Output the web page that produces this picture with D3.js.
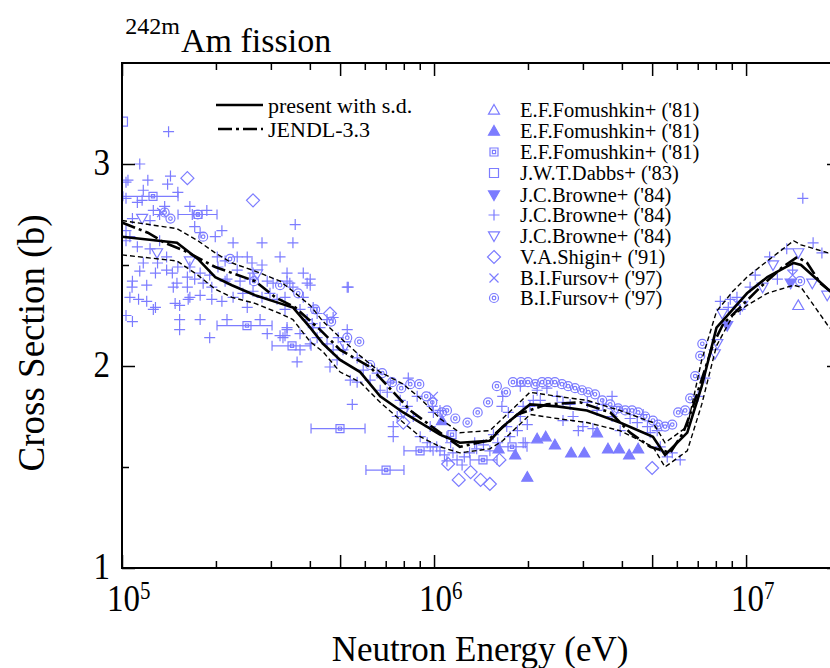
<!DOCTYPE html>
<html><head><meta charset="utf-8">
<script src="https://cdn.jsdelivr.net/npm/d3@7"></script>
<style>
body{margin:0;background:#fff}
svg text{font-family:"Liberation Serif","Times New Roman",serif;fill:#000}
</style>
</head><body>
<svg id="c" width="830" height="668"></svg>
<script>
// ---------------- DATA ----------------
// Evaluated curve (present) with standard deviation band
const presentE  = [1.0e5,1.50e5,1.75e5,1.99e5,2.25e5,2.67e5,3.21e5,3.53e5,4.01e5,4.41e5,5.00e5,5.80e5,6.72e5,7.97e5,9.03e5,1.045e6,1.21e6,1.51e6,1.66e6,2.03e6,2.48e6,3.09e6,3.94e6,5.03e6,5.50e6,6.48e6,7.21e6,8.04e6,9.07e6,1.007e7,1.17e7,1.42e7,1.50e7,1.83e7,2.0e7];
const presentXS = [2.64,2.61,2.53,2.44,2.40,2.35,2.31,2.29,2.19,2.11,2.03,1.97,1.85,1.77,1.72,1.66,1.62,1.63,1.70,1.81,1.80,1.78,1.72,1.65,1.56,1.67,1.90,2.19,2.28,2.36,2.44,2.51,2.50,2.38,2.34];
const presentUp = [2.72,2.68,2.62,2.56,2.51,2.47,2.42,2.37,2.30,2.22,2.14,2.05,1.97,1.91,1.84,1.74,1.67,1.68,1.74,1.87,1.85,1.83,1.78,1.72,1.62,1.70,2.03,2.27,2.37,2.44,2.52,2.62,2.60,2.56,2.58];
const presentLo = [2.55,2.52,2.45,2.38,2.34,2.31,2.26,2.23,2.12,2.07,1.97,1.92,1.82,1.72,1.65,1.60,1.57,1.59,1.63,1.76,1.74,1.72,1.68,1.60,1.50,1.58,1.81,2.10,2.25,2.30,2.36,2.40,2.39,2.20,2.13];
// JENDL-3.3
const jendlE  = [1.0e5,1.21e5,1.37e5,1.59e5,1.99e5,2.67e5,3.10e5,3.59e5,4.31e5,5.00e5,6.24e5,8.39e5,1.045e6,1.21e6,1.48e6,1.85e6,2.30e6,2.94e6,3.67e6,4.25e6,4.93e6,5.71e6,6.29e6,6.76e6,7.85e6,8.46e6,9.57e6,1.11e7,1.31e7,1.46e7,1.57e7,1.73e7,2.0e7];
const jendlXS = [2.71,2.66,2.61,2.57,2.49,2.42,2.34,2.29,2.18,2.08,1.995,1.78,1.67,1.60,1.63,1.76,1.81,1.82,1.77,1.67,1.60,1.57,1.67,1.80,2.11,2.21,2.29,2.39,2.49,2.54,2.51,2.41,2.33];

// Experimental data  [energy (eV), cross section (b)]
const fomushkinOpenTri = [[1.47e7,2.30]];
const fomushkinFilledTri = [[1.06e6,1.73],[1.61e6,1.59],[1.82e6,1.56],[1.99e6,1.45],[2.14e6,1.64],[2.28e6,1.65],[2.44e6,1.61],[2.75e6,1.57],[3.03e6,1.57],[3.33e6,1.67],[3.61e6,1.59],[3.92e6,1.59],[4.22e6,1.56],[4.51e6,1.59]];
// square-with-dot points: [E, xs, Elow, Ehigh]
const fomushkinSquare = [[1.257e5,2.84,1.007e5,1.512e5],[1.752e5,2.75,1.512e5,2.016e5],[2.515e5,2.20,2.016e5,3.026e5],[3.507e5,2.10,3.026e5,4.035e5],[4.996e5,1.69,4.035e5,6.01e5],[7.02e5,1.485,6.05e5,8.01e5],[9.02e5,1.58,8.01e5,9.93e5],[1.142e6,1.66,1.142e6,1.142e6],[1.435e6,1.535,1.305e6,1.592e6],[1.778e6,1.60,1.627e6,1.986e6]];
const dabbsSquare = [[1.007e5,3.21]];
const browneFilledDown = [[1.39e7,2.41],[8.70e6,2.20]];
const browneCross = [[1.41e5,3.16],[1.14e5,3.00],[1.045e5,2.92],[1.21e5,2.92],[1.43e5,2.94],[1.40e5,2.90],[1.51e5,2.86],[1.17e5,2.87],[1.16e5,2.82],[1.12e5,2.81],
[1.26e5,2.77],[1.65e5,2.79],[1.87e5,2.77],[1.37e5,2.79],[1.32e5,2.75],[1.68e5,2.75],[1.71e5,2.69],[1.78e5,2.66],[2.09e5,2.67],[3.59e5,2.70],
[3.53e5,2.61],[2.81e5,2.61],[1.99e5,2.64],[2.27e5,2.61],[1.08e5,2.73],[1.23e5,2.72],[1.06e5,2.64],[1.12e5,2.59],[1.23e5,2.58],[1.32e5,2.62],
[1.39e5,2.54],[1.17e5,2.51],[1.30e5,2.51],[1.14e5,2.47],[1.28e5,2.46],[1.39e5,2.475],[1.51e5,2.49],[1.62e5,2.44],[1.50e5,2.41],[1.45e5,2.46],
[1.71e5,2.43],[1.78e5,2.46],[1.91e5,2.45],[1.65e5,2.49],[2.03e5,2.49],[2.14e5,2.52],[2.02e5,2.54],[2.34e5,2.54],[2.52e5,2.54],[2.61e5,2.51],
[2.81e5,2.50],[3.21e5,2.54],[2.63e5,2.46],[2.34e5,2.475],[2.14e5,2.42],[1.94e5,2.39],[1.62e5,2.39],[1.46e5,2.39],[1.20e5,2.40],[1.08e5,2.42],
[1.077e5,2.39],[1.06e5,2.34],[1.13e5,2.33],[1.20e5,2.32],[1.28e5,2.29],[1.48e5,2.31],[1.53e5,2.30],[1.63e5,2.33],[1.78e5,2.35],[1.94e5,2.33],
[2.09e5,2.32],[2.27e5,2.34],[2.44e5,2.36],[2.63e5,2.37],[2.81e5,2.34],[2.98e5,2.36],[3.14e5,2.33],[3.33e5,2.34],[3.53e5,2.39],[3.81e5,2.46],
[4.01e5,2.40],[3.81e5,2.34],[1.53e5,2.23],[1.78e5,2.23],[1.91e5,2.14],[2.17e5,2.23],[2.52e5,2.29],[2.77e5,2.23],[2.92e5,2.16],[3.21e5,2.15],
[3.38e5,2.18],[1.08e5,2.22],[1.26e5,2.28],[1.53e5,2.18],[1.65e5,2.34],[1.82e5,2.41],[2.17e5,2.43],[2.39e5,2.42],[2.57e5,2.43],[2.92e5,2.42],
[3.05e5,2.41],[3.38e5,2.42],[4.22e5,2.26],[3.72e5,2.28],[3.92e5,2.23],[4.10e5,2.19],[4.75e5,2.24],[5.27e5,2.39],[4.01e5,2.43],[3.38e5,2.46],
[1.03e5,2.91],[1.03e5,2.83],[1.03e5,2.67],[1.03e5,2.62],[1.03e5,2.25],
[3.92e5,2.41],[3.45e5,2.41],[3.33e5,2.28],[3.33e5,2.15],[3.64e5,2.02],[3.72e5,2.08],[4.07e5,2.21],[4.31e5,2.19],[4.10e5,2.29],[5.31e5,2.39],
[5.27e5,2.18],[4.54e5,2.11],[4.64e5,1.995],[4.89e5,2.03],[5.39e5,1.93],[5.67e5,1.92],[5.47e5,1.81],[5.93e5,1.98],[6.24e5,1.93],[6.72e5,1.88],
[7.08e5,1.87],[8.27e5,1.94],[8.21e5,1.80],[7.62e5,1.75],[7.40e5,1.70],[7.40e5,1.65],[8.58e5,1.75],[9.03e5,1.65],[9.72e5,1.70],[9.95e5,1.77],
[1.045e6,1.78],[9.51e5,1.62],[1.10e6,1.65],[3.38e5,2.19],[3.28e5,2.14],[3.72e5,2.16],[4.01e5,2.11],[4.22e5,2.14],[4.93e5,2.14],[4.54e5,2.23],
[4.75e5,2.08],[5.11e5,2.08],[5.67e5,2.04],[6.57e5,1.965],[7.24e5,1.92],[7.79e5,1.83],[8.83e5,1.85],[9.87e5,1.80],
[9.72e5,1.60],[1.045e6,1.58],[1.13e6,1.62],[1.185e6,1.535],[1.23e6,1.51],[1.30e6,1.57],[1.37e6,1.59],[1.44e6,1.61],[1.51e6,1.58],
[1.08e6,1.56],[1.15e6,1.57],[1.25e6,1.55],[1.10e6,1.53],[1.02e6,1.60],[1.35e6,1.62],[1.60e6,1.62],[1.55e6,1.66],
[1.66e6,1.85],[1.65e6,1.80],[1.71e6,1.70],[1.75e6,1.65],[1.85e6,1.68],[1.89e6,1.75],[1.93e6,1.62],[1.99e6,1.71],[1.93e6,1.80],[2.08e6,1.83],
[2.14e6,1.88],[2.19e6,1.83],[2.30e6,1.89],[2.48e6,1.85],[2.59e6,1.82],[2.73e6,1.81],[3.00e6,1.70],[3.23e6,1.69],[3.48e6,1.81],[3.72e6,1.85],
[3.72e6,1.75],[3.95e6,1.68],[4.25e6,1.74],[4.48e6,1.72],[4.83e6,1.70],[5.19e6,1.68],[1.89e6,1.90],[2.03e6,1.80],[1.73e6,1.77],[2.59e6,1.73],
[2.79e6,1.75],[2.90e6,1.68],[1.96e6,1.62],[3.10e6,1.82],[3.33e6,1.78],[4.68e6,1.76],[4.93e6,1.67],
[5.59e6,1.55],[5.80e6,1.57],[5.31e6,1.60],[6.15e6,1.535],[7.39e6,1.94],[7.02e6,1.85],[8.27e6,2.32],[8.90e6,2.33],[8.77e6,2.29],[1.07e7,2.45],
[1.19e7,2.54],[1.26e7,2.43],[1.35e7,2.58],[1.41e7,2.475],[1.64e7,2.61],[1.75e7,2.56],[1.03e7,2.39],[9.57e6,2.28],[1.52e7,2.83],[9.35e6,2.34]];
const browneOpenDown = [[1.16e5,2.73],[1.295e5,2.56],[1.65e5,2.52],[2.71e5,2.455],[5.19e5,2.10],[7.97e5,1.77],[3.81e6,1.78],[8.39e6,2.26],[9.72e6,2.30],[1.13e7,2.39],[1.22e7,2.50],[1.47e7,2.56],[1.63e7,2.41],[1.82e7,2.35],[8.09e6,2.11],[7.94e6,2.06]];
const shiginDiamond = [[1.62e5,2.93],[2.63e5,2.82],[4.64e5,2.26],[7.97e5,1.72],[1.11e6,1.515],[1.20e6,1.436],[1.31e6,1.475],[1.41e6,1.436],[1.51e6,1.416],[1.62e6,1.535],[5.00e6,1.495]];
const fursovX = [[1.34e5,2.76],[9.95e5,1.85],[9.35e6,2.31],[1.41e7,2.45]];
const fursovCircle = [[1.37e5,2.76],[1.43e5,2.73],[1.75e5,2.75],[1.82e5,2.64],[2.22e5,2.53],[2.65e5,2.42],[3.21e5,2.40],[3.67e5,2.36],[4.16e5,2.28],[4.68e5,2.22],
[5.27e5,2.14],[5.76e5,2.12],[6.24e5,2.005],[6.82e5,1.965],[7.34e5,1.92],[7.85e5,1.89],[8.39e5,1.91],[8.97e5,1.91],[9.44e5,1.85],[9.87e5,1.82],
[1.06e6,1.77],[1.10e6,1.78],[1.17e6,1.74],[1.28e6,1.72],[1.38e6,1.77],[1.49e6,1.82],[1.59e6,1.90],[1.70e6,1.87],[1.79e6,1.92],[1.90e6,1.92],
[2.00e6,1.92],[2.11e6,1.91],[2.22e6,1.92],[2.32e6,1.92],[2.44e6,1.92],[2.57e6,1.91],[2.69e6,1.90],[2.83e6,1.89],[2.98e6,1.88],[3.12e6,1.87],
[3.28e6,1.86],[3.46e6,1.83],[3.67e6,1.81],[3.89e6,1.79],[4.10e6,1.78],[4.31e6,1.78],[4.51e6,1.77],[4.75e6,1.75],[5.03e6,1.73],[5.23e6,1.71],
[5.50e6,1.70],[5.80e6,1.71],[6.06e6,1.77],[6.38e6,1.78],[6.62e6,1.84],[6.87e6,1.95],[7.13e6,2.05],[7.24e6,2.11],[1.49e7,2.42]];

const yTicksMajor = [1,2,3];
const yTicksMinor = [1.5,2.5];
const xDecades = [1e5,1e6,1e7];
const xDecadeExp = ["5","6","7"];

// ---------------- SCALES ----------------
const svg = d3.select("#c");
const L = 122, R = 840, T = 63, B = 568;
const x = d3.scaleLog().domain([1e5, 2e7]).range([L, R]);
const y = d3.scaleLinear().domain([1, 3.5]).range([B, T]);
const col = "#7c7cff";

svg.append("defs").append("clipPath").attr("id","clip")
  .append("rect").attr("x",L).attr("y",T).attr("width",R-L).attr("height",B-T);

// ---------------- SYMBOLS ----------------
const P = {
  plus: s => `M${-s},0H${s}M0,${-s}V${s}`,
  cross: s => `M${-s},${-s}L${s},${s}M${-s},${s}L${s},${-s}`,
  triUp: s => `M0,${-s}L${s},${s*0.75}L${-s},${s*0.75}Z`,
  triDown: s => `M0,${s}L${s},${-s*0.75}L${-s},${-s*0.75}Z`,
  diamond: s => `M0,${-s}L${s},0L0,${s}L${-s},0Z`,
  square: s => `M${-s},${-s}H${s}V${s}H${-s}Z`,
  sqDot: s => `M${-s},${-s}H${s}V${s}H${-s}ZM${-s*0.4},${-s*0.4}H${s*0.4}V${s*0.4}H${-s*0.4}Z`,
  circDot: s => `M${s},0A${s},${s} 0 1 1 ${-s},0A${s},${s} 0 1 1 ${s},0ZM${s*0.4},0A${s*0.4},${s*0.4} 0 1 1 ${-s*0.4},0A${s*0.4},${s*0.4} 0 1 1 ${s*0.4},0Z`
};
const series = [
  {name:"E.F.Fomushkin+ ('81)", data:fomushkinOpenTri, shape:"triUp", s:5.5, fill:false},
  {name:"E.F.Fomushkin+ ('81)", data:fomushkinFilledTri, shape:"triUp", s:5.5, fill:true},
  {name:"E.F.Fomushkin+ ('81)", data:fomushkinSquare, shape:"sqDot", s:4, fill:false, xerr:true},
  {name:"J.W.T.Dabbs+ ('83)", data:dabbsSquare, shape:"square", s:4.5, fill:false},
  {name:"J.C.Browne+ ('84)", data:browneFilledDown, shape:"triDown", s:5.5, fill:true},
  {name:"J.C.Browne+ ('84)", data:browneCross, shape:"plus", s:5.5, fill:false},
  {name:"J.C.Browne+ ('84)", data:browneOpenDown, shape:"triDown", s:5.5, fill:false},
  {name:"V.A.Shigin+ ('91)", data:shiginDiamond, shape:"diamond", s:6.5, fill:false},
  {name:"B.I.Fursov+ ('97)", data:fursovX, shape:"cross", s:4.5, fill:false},
  {name:"B.I.Fursov+ ('97)", data:fursovCircle, shape:"circDot", s:4.5, fill:false}
];

const plot = svg.append("g").attr("clip-path","url(#clip)");
const order = [5,9,6,7,8,2,3,4,1,0];
order.forEach(i => {
  const sr = series[i];
  const g = plot.append("g");
  if (sr.xerr) {
    g.selectAll("line").data(sr.data.filter(d=>d[2]!==d[3])).join("line")
      .attr("x1",d=>x(d[2])).attr("x2",d=>x(d[3]))
      .attr("y1",d=>y(d[1])).attr("y2",d=>y(d[1]))
      .attr("stroke",col).attr("stroke-width",1.2);
    g.selectAll("line.cap").data(sr.data.filter(d=>d[2]!==d[3]).flatMap(d=>[[d[2],d[1]],[d[3],d[1]]]))
      .join("line").attr("class","cap")
      .attr("x1",d=>x(d[0])).attr("x2",d=>x(d[0]))
      .attr("y1",d=>y(d[1])-5).attr("y2",d=>y(d[1])+5)
      .attr("stroke",col).attr("stroke-width",1.2);
  }
  g.selectAll("path").data(sr.data).join("path")
    .attr("transform",d=>`translate(${x(d[0])},${y(d[1])})`)
    .attr("d",P[sr.shape](sr.s))
    .attr("fill",sr.fill?col:"none")
    .attr("fill-rule","evenodd")
    .attr("stroke",col).attr("stroke-width",1.2);
});

// ---------------- LINES ----------------
const line = d3.line().x(d=>x(d[0])).y(d=>y(d[1]));
const zip = (a,b)=>a.map((v,i)=>[v,b[i]]);
plot.append("path").attr("d",line(zip(presentE,presentUp))).attr("fill","none")
  .attr("stroke","#000").attr("stroke-width",1.4).attr("stroke-dasharray","5,3");
plot.append("path").attr("d",line(zip(presentE,presentLo))).attr("fill","none")
  .attr("stroke","#000").attr("stroke-width",1.4).attr("stroke-dasharray","5,3");
plot.append("path").attr("d",line(zip(jendlE,jendlXS))).attr("fill","none")
  .attr("stroke","#000").attr("stroke-width",2.6).attr("stroke-dasharray","14,4,3,4");
plot.append("path").attr("d",line(zip(presentE,presentXS))).attr("fill","none")
  .attr("stroke","#000").attr("stroke-width",2.6);

// ---------------- AXES ----------------
const minorX = [];
[1e5,1e6,1e7].forEach(dec=>{for(let k=2;k<=9;k++){const v=k*dec; if(v<=2e7) minorX.push(v);}});
const longX = xDecades.concat(minorX.filter(v=>Math.abs(v/Math.pow(10,Math.floor(Math.log10(v)))-5)<1e-9));
const shortX = minorX.filter(v=>!longX.includes(v));
const axG = svg.append("g");
function ticksX(vals,len){
  axG.append("g").attr("transform",`translate(0,${B})`)
    .call(d3.axisBottom(x).tickValues(vals).tickSize(-len).tickFormat("")).call(g=>g.select(".domain").remove())
    .selectAll("line").attr("stroke","#000").attr("stroke-width",1.5);
  axG.append("g").attr("transform",`translate(0,${T})`)
    .call(d3.axisTop(x).tickValues(vals).tickSize(-len).tickFormat("")).call(g=>g.select(".domain").remove())
    .selectAll("line").attr("stroke","#000").attr("stroke-width",1.5);
}
ticksX(longX,13); ticksX(shortX,7);
function ticksY(vals,len){
  axG.append("g").attr("transform",`translate(${L},0)`)
    .call(d3.axisLeft(y).tickValues(vals).tickSize(-len).tickFormat("")).call(g=>g.select(".domain").remove())
    .selectAll("line").attr("stroke","#000").attr("stroke-width",1.5);
  axG.append("g").attr("transform",`translate(${R},0)`)
    .call(d3.axisRight(y).tickValues(vals).tickSize(-len).tickFormat("")).call(g=>g.select(".domain").remove())
    .selectAll("line").attr("stroke","#000").attr("stroke-width",1.5);
}
ticksY(yTicksMajor,13); ticksY(yTicksMinor,7);
svg.append("rect").attr("x",L).attr("y",T).attr("width",R-L).attr("height",B-T)
  .attr("fill","none").attr("stroke","#000").attr("stroke-width",2);

// y tick labels (slightly tall glyphs, as in the reference)
svg.selectAll("text.yl").data(yTicksMajor).join("text").attr("class","yl")
  .attr("transform",d=>`translate(110,${y(d)+11}) scale(1,1.15)`).attr("text-anchor","end")
  .style("font-size","33px").text(d=>d);
// x tick labels 10^n
xDecades.forEach((v,i)=>{
  const px = x(v);
  svg.append("text").attr("transform",`translate(${px-15},611) scale(1,1.15)`).style("font-size","33px").text("10");
  svg.append("text").attr("transform",`translate(${px+18},599) scale(1,1.15)`).style("font-size","21px").text(xDecadeExp[i]);
});

// axis titles
svg.append("text").attr("x",480).attr("y",661).attr("text-anchor","middle")
  .style("font-size","35px").text("Neutron Energy (eV)");
svg.append("text").attr("transform","translate(44,343) rotate(-90)").attr("text-anchor","middle")
  .style("font-size","37px").text("Cross Section (b)");

// title
svg.append("text").attr("x",180).attr("y",34).attr("text-anchor","end").style("font-size","24px").text("242m");
svg.append("text").attr("x",181).attr("y",52).style("font-size","34px").text("Am fission");

// ---------------- LEGENDS ----------------
svg.append("line").attr("x1",216).attr("x2",263).attr("y1",105).attr("y2",105).attr("stroke","#000").attr("stroke-width",2.6);
svg.append("text").attr("x",268).attr("y",113).style("font-size","22px").text("present with s.d.");
svg.append("line").attr("x1",218).attr("x2",263).attr("y1",129).attr("y2",129).attr("stroke","#000").attr("stroke-width",2.6).attr("stroke-dasharray","14,4,3,4");
svg.append("text").attr("x",268).attr("y",137).style("font-size","22px").text("JENDL-3.3");

const rowsY = [110,131,152,173,195,215,236,257,278,298];
series.forEach((sr,i)=>{
  svg.append("path").attr("transform",`translate(494,${rowsY[i]})`)
    .attr("d",P[sr.shape](sr.s)).attr("fill",sr.fill?col:"none").attr("fill-rule","evenodd")
    .attr("stroke",col).attr("stroke-width",1.2);
  svg.append("text").attr("x",520).attr("y",rowsY[i]+7).style("font-size","20.5px").text(sr.name);
});
</script>
</body></html>
